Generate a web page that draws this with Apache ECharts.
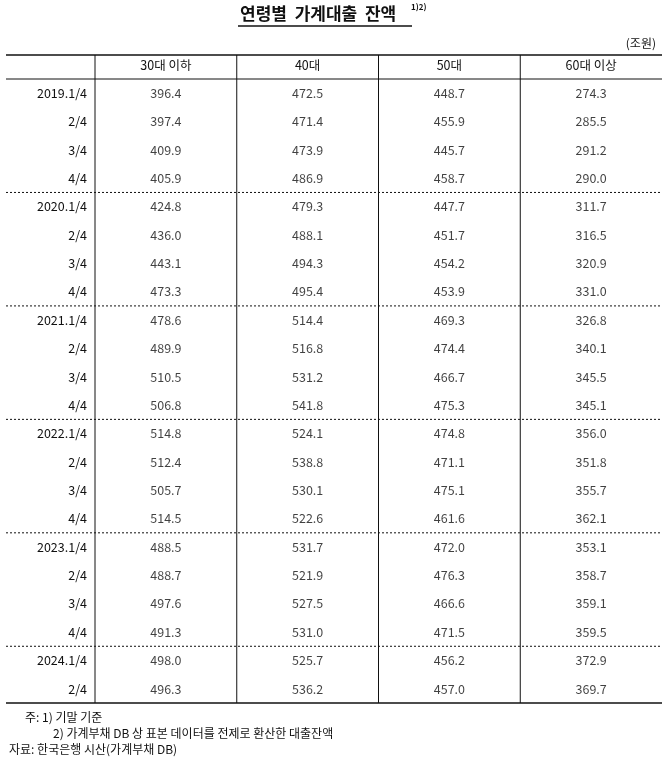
<!DOCTYPE html><html><head><meta charset="utf-8">
<script src="https://cdn.jsdelivr.net/npm/echarts@6/dist/echarts.min.js"></script>
<style>html,body{margin:0;background:#fff}#c{width:668px;height:767px}</style></head><body><div id="c"></div><script>
const rowLabels=['2019.1/4','2/4','3/4','4/4','2020.1/4','2/4','3/4','4/4','2021.1/4','2/4','3/4','4/4','2022.1/4','2/4','3/4','4/4','2023.1/4','2/4','3/4','4/4','2024.1/4','2/4'];
const columns=['30대 이하','40대','50대','60대 이상'];
const age30=[396.4,397.4,409.9,405.9,424.8,436.0,443.1,473.3,478.6,489.9,510.5,506.8,514.8,512.4,505.7,514.5,488.5,488.7,497.6,491.3,498.0,496.3];
const age40=[472.5,471.4,473.9,486.9,479.3,488.1,494.3,495.4,514.4,516.8,531.2,541.8,524.1,538.8,530.1,522.6,531.7,521.9,527.5,531.0,525.7,536.2];
const age50=[448.7,455.9,445.7,458.7,447.7,451.7,454.2,453.9,469.3,474.4,466.7,475.3,474.8,471.1,475.1,461.6,472.0,476.3,466.6,471.5,456.2,457.0];
const age60=[274.3,285.5,291.2,290.0,311.7,316.5,320.9,331.0,326.8,340.1,345.5,345.1,356.0,351.8,355.7,362.1,353.1,358.7,359.1,359.5,372.9,369.7];
const F='"Noto Sans CJK KR", sans-serif';
const L=6,R=662,T=55,HB=79,B=703,GL=95;
const ch=echarts.init(document.getElementById('c'));
const idx=rowLabels.map((_,i)=>String(i));
const mk=(arr,ci)=>({type:'scatter',symbolSize:0,silent:true,data:arr.map((v,i)=>[ci,String(i),v]),
 label:{show:true,position:'inside',formatter:p=>p.value[2].toFixed(1),color:'#111',fontSize:12.5,fontFamily:F}});
const rowH=(B-HB)/rowLabels.length;
const g=[];
const line=(x1,y1,x2,y2,w,dash)=>g.push({type:'line',shape:{x1,y1,x2,y2},style:{stroke:'#111',lineWidth:w,lineDash:dash||null}});
line(L,T,R,T,1.3);line(L,HB,R,HB,1);line(L,B,R,B,1.3);
[GL,GL+(R-GL)/4,GL+(R-GL)/2,GL+3*(R-GL)/4].forEach(x=>line(x,T,x,B,1));
for(let k=1;k<6;k++){const y=HB+k*4*rowH;line(L,y,R,y,1,[2,2]);}
g.push({type:'text',x:240,y:14,style:{text:'연령별  가계대출  잔액',font:'bold 17px '+F,fill:'#111',textAlign:'left',textVerticalAlign:'middle'}});
line(238,26,412,26,1.5);
g.push({type:'text',x:411,y:3,style:{text:'1)2)',font:'bold 8px '+F,fill:'#111'}});
g.push({type:'text',x:656,y:43,style:{text:'(조원)',font:'12px '+F,fill:'#111',textAlign:'right',textVerticalAlign:'middle'}});
g.push({type:'text',x:25,y:717,style:{text:'주: 1) 기말 기준',font:'12px '+F,fill:'#111',textVerticalAlign:'middle'}});
g.push({type:'text',x:53,y:733,style:{text:'2) 가계부채 DB 상 표본 데이터를 전제로 환산한 대출잔액',font:'12px '+F,fill:'#111',textVerticalAlign:'middle'}});
g.push({type:'text',x:9,y:749,style:{text:'자료: 한국은행 시산(가계부채 DB)',font:'12px '+F,fill:'#111',textVerticalAlign:'middle'}});
ch.setOption({animation:false,backgroundColor:'#fff',
 grid:{left:GL,right:668-R,top:HB,bottom:767-B},
 xAxis:{type:'category',position:'top',data:[0,1,2,3],axisLine:{show:false},axisTick:{show:false},splitLine:{show:false},
  axisLabel:{formatter:v=>columns[v],margin:7,color:'#111',fontSize:12.5,fontFamily:F}},
 yAxis:{type:'category',inverse:true,data:idx,axisLine:{show:false},axisTick:{show:false},splitLine:{show:false},
  axisLabel:{formatter:v=>rowLabels[+v],margin:8,color:'#111',fontSize:12.5,fontFamily:F,interval:0}},
 series:[mk(age30,0),mk(age40,1),mk(age50,2),mk(age60,3)],
 graphic:g});
</script></body></html>
